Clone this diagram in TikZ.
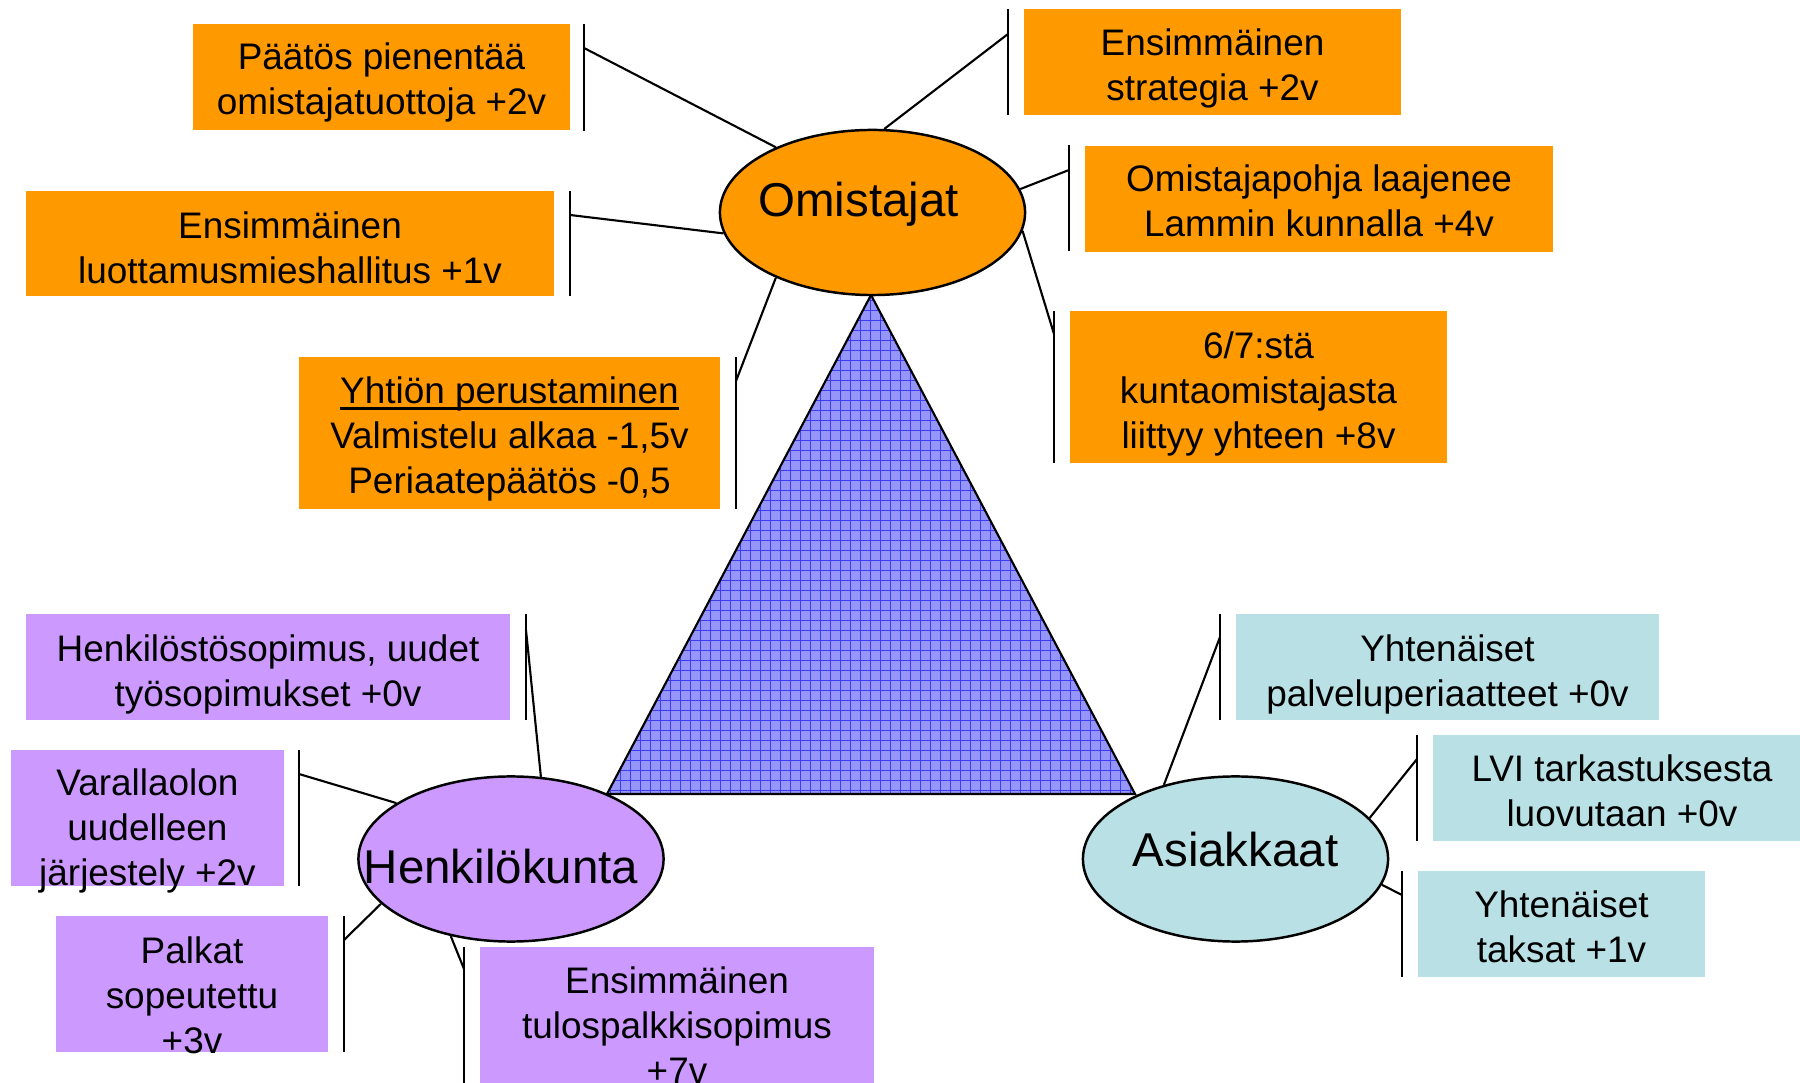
\documentclass[tikz,border=0pt]{standalone}
\usepackage{fontspec}
\setmainfont{Liberation Sans}
\usetikzlibrary{shapes.geometric}
\definecolor{orangebox}{RGB}{255,153,0}
\definecolor{lilabox}{RGB}{204,153,255}
\definecolor{tealbox}{RGB}{185,224,228}
\definecolor{trifill}{RGB}{150,150,250}
\definecolor{trigrid}{RGB}{60,60,240}
\newcommand\alaviiva[1]{\leavevmode\setbox0\hbox{#1}\rlap{\rule[-0.065cm]{\wd0}{0.025cm}}\box0}
\tikzset{
  boxtxt/.style={align=center,inner sep=0pt,anchor=north,font=\fontsize{10.5}{12.8}\selectfont},
  bar/.style={line width=0.6pt},
  conn/.style={line width=0.6pt},
  ryhma/.style={ellipse,draw=black,line width=0.7pt,minimum width=3.05cm,minimum height=1.65cm,
    inner sep=0pt,font=\fontsize{13.5}{16}\selectfont},
}

\begin{document}
\begin{tikzpicture}[x=0.01cm,y=-0.01cm]
        \path[use as bounding box,clip] (0,0) rectangle (1800,1083);
        %
        % kolmio
        \begin{scope}
          \clip (871,295) -- (1135,794) -- (607,794) -- cycle;
          \fill[trifill] (600,290) rectangle (1140,800);
          \draw[trigrid,line width=0.3pt,step=1mm] (600,290) grid (1140,800);
        \end{scope}
        \draw[line width=0.6pt] (871,295) -- (1135,794) -- (607,794) -- cycle;
        %
        % ryhmat
        \node[ryhma,fill=orangebox,text height=0.34cm,text depth=0.25cm] (omi) at (872.5,212.5) {\makebox[0pt]{Omistajat\hspace{0.28cm}}};
        \node[ryhma,fill=lilabox,text height=0.48cm,text depth=0cm] (hen) at (511,859) {\makebox[0pt]{Henkilökunta\hspace{0.2cm}}};
        \node[ryhma,fill=tealbox,text height=0.34cm,text depth=0.19cm] (asi) at (1235.5,859) {\makebox[0pt]{Asiakkaat}};
        %
        % Omistajat
        \fill[orangebox] (193,24) rectangle (570,130);
        \node[boxtxt] (pa) at (381.5,42.5) {Päätös pienentää\\omistajatuottoja +2v};
        \fill[orangebox] (26,191) rectangle (554,296);
        \node[boxtxt] (pb) at (290,211) {Ensimmäinen\\luottamusmieshallitus +1v};
        \fill[orangebox] (299,357) rectangle (720,509);
        \node[boxtxt] (pc) at (509.5,376) {\alaviiva{Yhtiön perustaminen}\\Valmistelu alkaa -1,5v\\Periaatepäätös -0,5};
        \fill[orangebox] (1024,9) rectangle (1401,115);
        \node[boxtxt] (pd) at (1212.5,28.5) {Ensimmäinen\\strategia +2v};
        \fill[orangebox] (1085,146) rectangle (1553,252);
        \node[boxtxt] (pe) at (1319,164.5) {Omistajapohja laajenee\\Lammin kunnalla +4v};
        \fill[orangebox] (1070,311) rectangle (1447,463);
        \node[boxtxt] (pf) at (1258.5,331.5) {6/7:stä\\kuntaomistajasta\\liittyy yhteen +8v};
        %
        % Henkilokunta
        \fill[lilabox] (26,614) rectangle (510,720);
        \node[boxtxt] (pg) at (268,634.5) {Henkilöstösopimus, uudet\\työsopimukset +0v};
        \fill[lilabox] (11,750) rectangle (284,886);
        \node[boxtxt] (ph) at (147.5,768) {Varallaolon\\uudelleen\\järjestely +2v};
        \fill[lilabox] (56,916) rectangle (328,1052);
        \node[boxtxt] (pi) at (192,936) {Palkat\\sopeutettu\\+3v};
        \fill[lilabox] (480,947) rectangle (874,1100);
        \node[boxtxt] (pj) at (677,966) {Ensimmäinen\\tulospalkkisopimus\\+7v};
        %
        % Asiakkaat
        \fill[tealbox] (1236,614) rectangle (1659,720);
        \node[boxtxt] (pk) at (1447.5,634.5) {Yhtenäiset\\palveluperiaatteet +0v};
        \fill[tealbox] (1433,735) rectangle (1811,841);
        \node[boxtxt] (pl) at (1622,754) {LVI tarkastuksesta\\luovutaan +0v};
        \fill[tealbox] (1418,871) rectangle (1705,977);
        \node[boxtxt] (pm) at (1561.5,890.5) {Yhtenäiset\\taksat +1v};
        %
        % palkit
        \draw[bar] (584,24) -- (584,131);
        \draw[bar] (570,191) -- (570,296);
        \draw[bar] (736,357) -- (736,509);
        \draw[bar] (1008,9) -- (1008,115);
        \draw[bar] (1069,145) -- (1069,251);
        \draw[bar] (1054,311) -- (1054,463);
        \draw[bar] (526,614) -- (526,720);
        \draw[bar] (299,750) -- (299,886);
        \draw[bar] (344,916) -- (344,1052);
        \draw[bar] (464,947) -- (464,1090);
        \draw[bar] (1220,614) -- (1220,720);
        \draw[bar] (1417,735) -- (1417,841);
        \draw[bar] (1402,871) -- (1402,977);
        %
        \coordinate (ka) at (584,48);
        \coordinate (kb) at (570,215);
        \coordinate (kc) at (736,381);
        \coordinate (kd) at (1008,34);
        \coordinate (ke) at (1069,170);
        \coordinate (kf) at (1054,334);
        \coordinate (kg) at (526,630);
        \coordinate (kh) at (299,774);
        \coordinate (ki) at (344,940);
        \coordinate (kj) at (464,969);
        \coordinate (kk) at (1220,637);
        \coordinate (kl) at (1417,759);
        \coordinate (km) at (1402,895);
        %
        \draw[conn] (ka) -- (omi.146);
        \draw[conn] (kb) -- (omi.188);
        \draw[conn] (kc) -- (omi.214);
        \draw[conn] (kd) -- (omi.82);
        \draw[conn] (ke) -- (omi.9);
        \draw[conn] (kf) -- (omi.-7);
        \draw[conn] (kg) -- (hen.70);
        \draw[conn] (kh) -- (hen.154);
        \draw[conn] (ki) -- (hen.199);
        \draw[conn] (kj) -- (hen.232);
        \draw[conn] (kk) -- (asi.134);
        \draw[conn] (kl) -- (asi.17);
        \draw[conn] (km) -- (asi.-10);
\end{tikzpicture}
\end{document}
